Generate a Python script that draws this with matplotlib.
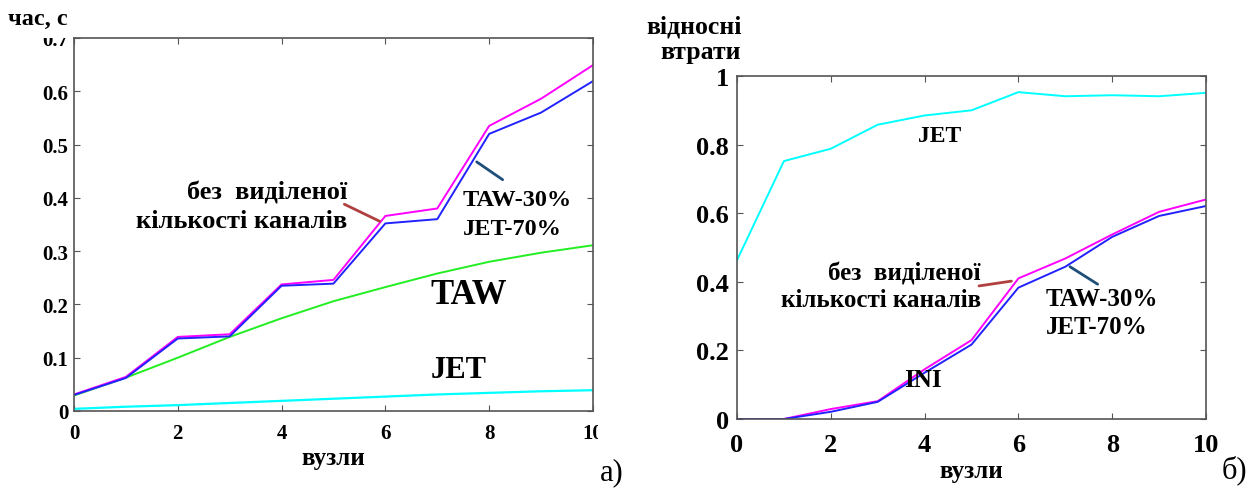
import matplotlib.pyplot as plt
from matplotlib.transforms import Bbox, TransformedBbox

plt.rcParams['font.family'] = ['Liberation Serif', 'DejaVu Serif']
plt.rcParams['font.weight'] = 'bold'
plt.rcParams['axes.labelweight'] = 'bold'

nodes = list(range(11))

# panel a) - time, s
time_none = [0.031, 0.064, 0.139, 0.144, 0.2375, 0.246, 0.366, 0.380, 0.535, 0.586, 0.649]
time_mix = [0.030, 0.062, 0.136, 0.140, 0.235, 0.239, 0.352, 0.360, 0.520, 0.560, 0.619]
time_taw = [0.029, 0.0625, 0.100, 0.139, 0.174, 0.206, 0.2325, 0.258, 0.280, 0.297, 0.311]
time_jet = [0.004, 0.008, 0.011, 0.015, 0.019, 0.023, 0.027, 0.031, 0.034, 0.037, 0.039]

# panel b) - relative losses
loss_jet = [0.463, 0.752, 0.788, 0.858, 0.885, 0.900, 0.953, 0.941, 0.944, 0.941, 0.951]
loss_none = [0.0, 0.0, 0.029, 0.052, 0.145, 0.230, 0.410, 0.468, 0.538, 0.604, 0.640]
loss_mix = [0.0, 0.0, 0.021, 0.050, 0.135, 0.217, 0.383, 0.444, 0.531, 0.592, 0.621]

xticks = [0, 2, 4, 6, 8, 10]

fig = plt.figure(figsize=(12.56, 4.89), dpi=100)

def style(ax, size, xpad, ypad):
    ax.set_xlim(0, 10)
    ax.set_xticks(xticks)
    ax.tick_params(direction='in', top=True, right=True, length=4,
                   color='#555555', labelsize=size)
    ax.tick_params(axis='x', pad=xpad)
    ax.tick_params(axis='y', pad=ypad)
    for s in ax.spines.values():
        s.set_color('#555555')
        s.set_linewidth(1.2)

# a)
ax1 = fig.add_axes([0.0589, 0.1575, 0.4132, 0.7628])
ax1.plot(nodes, time_jet, color='#00ffff', lw=1.6)
ax1.plot(nodes, time_taw, color='#22ee22', lw=1.4)
ax1.plot(nodes, time_none, color='#ff00ff', lw=1.4)
ax1.plot(nodes, time_mix, color='#2222ff', lw=1.4)
ax1.set_ylim(0, 0.7)
ax1.set_yticks([0, 0.1, 0.2, 0.3, 0.4, 0.5, 0.6, 0.7])
ax1.set_yticklabels(['0', '0.1', '0.2', '0.3', '0.4', '0.5', '0.6', '0.7'])
style(ax1, 15, 9, 4)
ax1.set_xlabel('вузли', fontsize=18, labelpad=2)
# the last labels are cut by the frame in the original
clip = TransformedBbox(Bbox([[-1, -1], [1.01, 1.0]]), ax1.transAxes)
for lab in [ax1.get_xticklabels()[-1], ax1.get_yticklabels()[-1]]:
    lab.set_clip_box(clip)
    lab.set_clip_on(True)

fig.text(0.006, 0.961, 'час, с', fontsize=17.5, ha='left', va='center')
fig.text(0.487, 0.033, 'а)', fontsize=22, weight='normal', ha='center', va='center')

ax1.text(5.27, 0.411, 'без  виділеної', fontsize=19, ha='right', va='center')
ax1.text(5.27, 0.358, 'кількості каналів', fontsize=19, ha='right', va='center')
ax1.annotate('', xy=(5.89, 0.356), xytext=(5.21, 0.388),
             arrowprops=dict(arrowstyle='-', color='#b04040', lw=2,
                             shrinkA=0, shrinkB=0))
ax1.annotate('', xy=(7.76, 0.4675), xytext=(8.26, 0.434),
             arrowprops=dict(arrowstyle='-', color='#1f4e79', lw=2,
                             shrinkA=0, shrinkB=0))
ax1.text(7.49, 0.397, 'TAW-30%', fontsize=17.5, ha='left', va='center')
ax1.text(7.49, 0.3425, 'JET-70%', fontsize=17.5, ha='left', va='center')
ax1.text(6.86, 0.219, 'TAW', fontsize=25, ha='left', va='center')
ax1.text(6.88, 0.077, 'JET', fontsize=22, ha='left', va='center')

# b)
ax2 = fig.add_axes([0.5868, 0.1411, 0.3734, 0.7014])
ax2.plot(nodes, loss_jet, color='#00ffff', lw=1.4)
ax2.plot(nodes, loss_none, color='#ff00ff', lw=1.4)
ax2.plot(nodes, loss_mix, color='#2222ff', lw=1.4)
ax2.set_ylim(0, 1)
ax2.set_yticks([0, 0.2, 0.4, 0.6, 0.8, 1])
ax2.set_yticklabels(['0', '0.2', '0.4', '0.6', '0.8', '1'])
style(ax2, 19, 10, 6)
ax2.set_xlabel('вузли', fontsize=18, labelpad=2)
fig.text(0.591, 0.945, 'відносні', fontsize=18.5, ha='right', va='center')
fig.text(0.590, 0.892, 'втрати', fontsize=18.5, ha='right', va='center')
fig.text(0.983, 0.039, 'б)', fontsize=22, weight='normal', ha='center', va='center')

ax2.text(4.31, 0.827, 'JET', fontsize=17, ha='center', va='center')
ax2.text(5.2, 0.427, 'без  виділеної', fontsize=18, ha='right', va='center')
ax2.text(5.2, 0.347, 'кількості каналів', fontsize=18, ha='right', va='center')
ax2.annotate('', xy=(5.85, 0.402), xytext=(5.16, 0.388),
             arrowprops=dict(arrowstyle='-', color='#b04040', lw=2,
                             shrinkA=0, shrinkB=0))
ax2.annotate('', xy=(7.1, 0.444), xytext=(7.69, 0.393),
             arrowprops=dict(arrowstyle='-', color='#1f4e79', lw=2,
                             shrinkA=0, shrinkB=0))
ax2.text(6.58, 0.351, 'TAW-30%', fontsize=18, ha='left', va='center')
ax2.text(6.58, 0.269, 'JET-70%', fontsize=18, ha='left', va='center')
ax2.text(3.56, 0.1165, 'INI', fontsize=18, ha='left', va='center')

fig.savefig('out.png', dpi=100)
